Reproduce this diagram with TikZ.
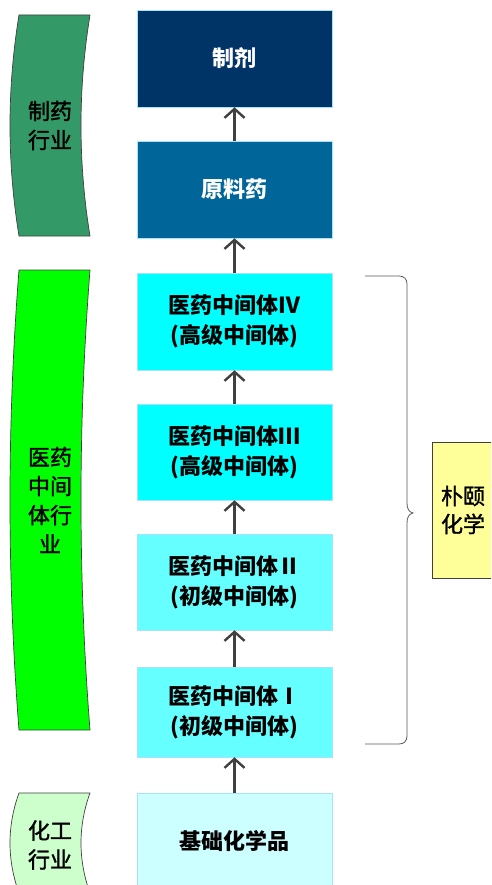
\documentclass[tikz,border=0pt]{standalone}
\usepackage{fontspec}
\setmainfont{Noto Sans CJK SC}
\newfontfamily\heiti[FakeBold=1.6]{Noto Sans CJK SC}
\usetikzlibrary{arrows.meta}
\definecolor{navy}{HTML}{003366}
\definecolor{steel}{HTML}{006699}
\definecolor{cyanA}{HTML}{00FFFF}
\definecolor{cyanB}{HTML}{66FFFF}
\definecolor{cyanC}{HTML}{CCFFFF}
\definecolor{grnA}{HTML}{339966}
\definecolor{grnB}{HTML}{00FF00}
\definecolor{grnC}{HTML}{CCFFCC}
\definecolor{yel}{HTML}{FFFF99}
\definecolor{arrgray}{HTML}{404040}
\tikzset{
  stagebox/.style={minimum width=195pt, inner sep=0pt, align=center,
    draw=cyan!35, line width=0.5pt,
    font=\bfseries\fontsize{22}{30}\selectfont},
  uparrow/.style={draw=arrgray, line width=2.4pt,
    -{Straight Barb[length=9pt,width=20pt,line width=2.4pt]}},
  banner/.style={draw=black!75, line width=0.7pt},
  bannertext/.style={align=center, inner sep=0pt,
    font=\heiti\fontsize{22}{29}\selectfont},
}
\begin{document}
\begin{tikzpicture}[x=1pt,y=-1pt]
\useasboundingbox (0,0) rectangle (491,885);
\clip (0,0) rectangle (491,885);

% stage boxes
\node[stagebox, fill=navy, text=white, minimum height=97pt] (zj) at (234.5,58.5) {制剂};
\node[stagebox, fill=steel, text=white, minimum height=97pt] (ylq) at (234.5,189.5) {原料药};
\node[stagebox, fill=cyanA, minimum height=97pt] (m4) at (234.5,321.5) {医药中间体Ⅳ\\(高级中间体)};
\node[stagebox, fill=cyanA, minimum height=96pt] (m3) at (234.5,452) {医药中间体Ⅲ\\(高级中间体)};
\node[stagebox, fill=cyanB, minimum height=96pt] (m2) at (234.5,582) {医药中间体Ⅱ\\(初级中间体)};
\node[stagebox, fill=cyanB, minimum height=90pt] (m1) at (234.5,712) {医药中间体Ⅰ\\(初级中间体)};
\node[stagebox, fill=cyanC, minimum height=96pt] (jc) at (234.5,841) {基础化学品};

% arrows
\draw[uparrow] (ylq.north) -- (zj.south);
\draw[uparrow] (m4.north) -- (ylq.south);
\draw[uparrow] (m3.north) -- (m4.south);
\draw[uparrow] (m2.north) -- (m3.south);
\draw[uparrow] (m1.north) -- (m2.south);
\draw[uparrow] (jc.north) -- (m1.south);

% industry banners
\draw[banner, fill=grnA] (19,15) -- (90,15)
  .. controls (78,88.7) and (78,162.3) .. (90,236) -- (19,236)
  .. controls (7,162.3) and (7,88.7) .. (19,15) -- cycle;
\node[bannertext] (pharma) at (50,125.5) {制药\\行业};

\draw[banner, fill=grnB] (19,270) -- (90,270)
  .. controls (78,423.3) and (78,576.7) .. (90,730) -- (19,730)
  .. controls (7,576.7) and (7,423.3) .. (19,270) -- cycle;
\node[bannertext] (inter) at (50,500) {医药\\中间\\体行\\业};

\draw[banner, fill=grnC] (19,793) -- (90,793)
  .. controls (78,826) and (78,860) .. (90,893) -- (19,893)
  .. controls (7,860) and (7,826) .. (19,793) -- cycle;
\node[bannertext] (chem) at (50,845) {化工\\行业};

% brace
\draw[draw=black!65, line width=0.8pt] (365,276) -- (399,276)
  .. controls (404,276) and (407,279) .. (407,284) -- (407,503)
  .. controls (407,509) and (409,512) .. (413,513)
  .. controls (409,514) and (407,517) .. (407,523) -- (407,736)
  .. controls (407,741) and (404,744) .. (399,744) -- (365,744);

% company box
\node[draw=black!75, line width=0.7pt, fill=yel, minimum width=62pt,
  minimum height=136pt, inner sep=0pt, align=center,
  font=\heiti\fontsize{22}{28}\selectfont] (py) at (463,510) {朴颐\\化学};
\end{tikzpicture}
\end{document}
